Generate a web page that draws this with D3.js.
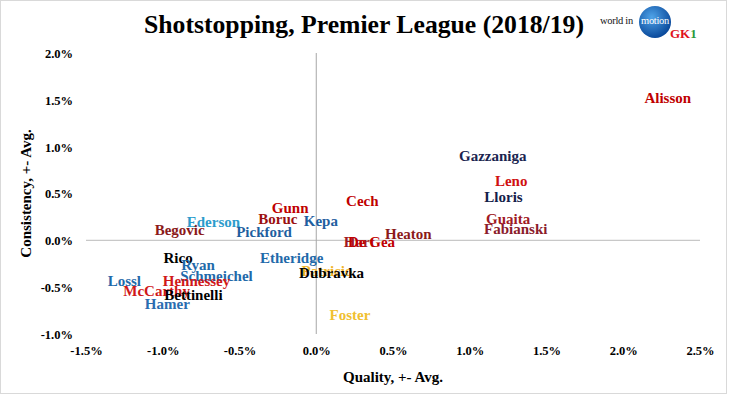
<!DOCTYPE html>
<html>
<head>
<meta charset="utf-8">
<script src="https://cdn.jsdelivr.net/npm/d3@7"></script>
<style>
  body { margin: 0; background: #fff; }
  svg text { font-family: "Liberation Serif", "DejaVu Serif", serif; }
</style>
</head>
<body>
<div id="chart"></div>
<script>
// keepers, quality (+- avg, %) and consistency (+- avg, %)
const keepers = ['Alisson', 'Gazzaniga', 'Leno', 'Lloris', 'Guaita', 'Fabianski', 'Heaton', 'Cech',
  'Hart', 'De Gea', 'Gunn', 'Boruc', 'Kepa', 'Ederson', 'Begovic', 'Pickford', 'Rico', 'Ryan',
  'Schmeichel', 'Lossl', 'Hennessey', 'McCarthy', 'Bettinelli', 'Hamer', 'Etheridge', 'Patricio',
  'Dubravka', 'Foster'];
const quality = [2.29, 1.15, 1.27, 1.22, 1.25, 1.30, 0.60, 0.30,
  0.28, 0.36, -0.17, -0.25, 0.03, -0.67, -0.89, -0.34, -0.90, -0.77,
  -0.65, -1.25, -0.78, -1.04, -0.80, -0.97, -0.16, 0.07,
  0.10, 0.22];
const consistency = [1.52, 0.90, 0.64, 0.47, 0.23, 0.12, 0.07, 0.42,
  -0.01, -0.02, 0.35, 0.23, 0.21, 0.20, 0.11, 0.09, -0.19, -0.26,
  -0.38, -0.43, -0.43, -0.54, -0.58, -0.68, -0.19, -0.32,
  -0.35, -0.79];
const clubColors = ['#c00000', '#1a2550', '#d01010', '#13204a', '#a01a24', '#8b1c2c', '#8b1a1a', '#c00000',
  '#a01a24', '#c00000', '#c00000', '#9b1010', '#1f5f9f', '#2c9ccc', '#8b1a1a', '#1f5f9f', '#000000', '#1f6aaa',
  '#1f6aaa', '#1f6aaa', '#d01818', '#d01818', '#000000', '#2a6cb0', '#1f6aaa', '#f0b429',
  '#000000', '#f0c030'];
const xTicks = [-1.5, -1.0, -0.5, 0.0, 0.5, 1.0, 1.5, 2.0, 2.5];
const yTicks = [-1.0, -0.5, 0.0, 0.5, 1.0, 1.5, 2.0];

const width = 730, height = 396;
const margin = { top: 53, right: 30, bottom: 62, left: 86 };

const svg = d3.select('#chart').append('svg')
  .attr('width', width)
  .attr('height', height);

svg.append('rect')
  .attr('x', 0.5).attr('y', 0.5)
  .attr('width', width - 4).attr('height', height - 3)
  .attr('fill', '#fff')
  .attr('stroke', '#d9d9d9');

const x = d3.scaleLinear().domain([-1.5, 2.5]).range([margin.left, width - margin.right]);
const y = d3.scaleLinear().domain([-1, 2]).range([height - margin.bottom, margin.top]);

// zero lines
svg.append('line')
  .attr('x1', x(-1.5)).attr('x2', x(2.5))
  .attr('y1', y(0)).attr('y2', y(0))
  .attr('stroke', '#c8c8c8').attr('stroke-width', 1.3);
svg.append('line')
  .attr('x1', x(0)).attr('x2', x(0))
  .attr('y1', y(2)).attr('y2', y(-1))
  .attr('stroke', '#a6a6a6').attr('stroke-width', 1);

const fmt = d => d.toFixed(1) + '%';

const xAxis = svg.append('g')
  .attr('transform', `translate(0, ${y(-1) + 12})`)
  .call(d3.axisBottom(x).tickValues(xTicks).tickFormat(fmt).tickSize(0).tickPadding(0));
const yAxis = svg.append('g')
  .attr('transform', `translate(${margin.left - 13}, 0)`)
  .call(d3.axisLeft(y).tickValues(yTicks).tickFormat(fmt).tickSize(0).tickPadding(0));

[xAxis, yAxis].forEach(a => {
  a.select('.domain').remove();
  a.selectAll('text')
    .attr('font-family', '"Liberation Serif", serif')
    .attr('font-size', 12.5)
    .attr('font-weight', 'bold')
    .attr('fill', '#000');
});
yAxis.selectAll('text').attr('dy', '0.35em');

// keeper labels
svg.append('g').selectAll('text')
  .data(keepers)
  .enter()
  .append('text')
  .attr('x', (d, i) => x(quality[i]))
  .attr('y', (d, i) => y(consistency[i]))
  .attr('dy', '0.35em')
  .attr('text-anchor', 'middle')
  .attr('font-size', 15)
  .attr('font-weight', 'bold')
  .attr('fill', (d, i) => clubColors[i])
  .text(d => d);

// titles
svg.append('text')
  .attr('x', 364).attr('y', 33)
  .attr('text-anchor', 'middle')
  .attr('font-size', 25)
  .attr('font-weight', 'bold')
  .attr('textLength', 440)
  .attr('lengthAdjust', 'spacingAndGlyphs')
  .text('Shotstopping, Premier League (2018/19)');

svg.append('text')
  .attr('x', (x(-1.5) + x(2.5)) / 2).attr('y', 382)
  .attr('text-anchor', 'middle')
  .attr('font-size', 15)
  .attr('font-weight', 'bold')
  .text('Quality, +- Avg.');

svg.append('text')
  .attr('transform', `translate(31, ${(y(2) + y(-1)) / 2}) rotate(-90)`)
  .attr('text-anchor', 'middle')
  .attr('font-size', 15)
  .attr('font-weight', 'bold')
  .text('Consistency, +- Avg.');

// logo
const logo = svg.append('g');
const grad = svg.append('defs').append('radialGradient')
  .attr('id', 'globe').attr('cx', '40%').attr('cy', '35%').attr('r', '65%');
grad.append('stop').attr('offset', '0%').attr('stop-color', '#4fa3e8');
grad.append('stop').attr('offset', '100%').attr('stop-color', '#0b4a9c');
logo.append('circle')
  .attr('cx', 655).attr('cy', 22).attr('r', 16)
  .attr('fill', 'url(#globe)');
logo.append('text')
  .attr('x', 600).attr('y', 24)
  .attr('font-family', 'Arial, "Liberation Sans", sans-serif')
  .attr('font-size', 10.5)
  .attr('letter-spacing', -0.3)
  .attr('fill', '#111')
  .text('world in');
logo.append('text')
  .attr('x', 655).attr('y', 24)
  .attr('text-anchor', 'middle')
  .attr('font-family', 'Arial, "Liberation Sans", sans-serif')
  .attr('font-size', 10.5)
  .attr('letter-spacing', -0.3)
  .attr('fill', '#fff')
  .text('motion');
const gk = logo.append('text')
  .attr('x', 670).attr('y', 38)
  .attr('font-family', 'Arial, "Liberation Sans", sans-serif')
  .attr('font-size', 13)
  .attr('font-weight', 'bold')
  .attr('fill', '#e0121b');
gk.append('tspan').text('GK');
gk.append('tspan').attr('fill', '#2a9a3a').text('1');
</script>
</body>
</html>
